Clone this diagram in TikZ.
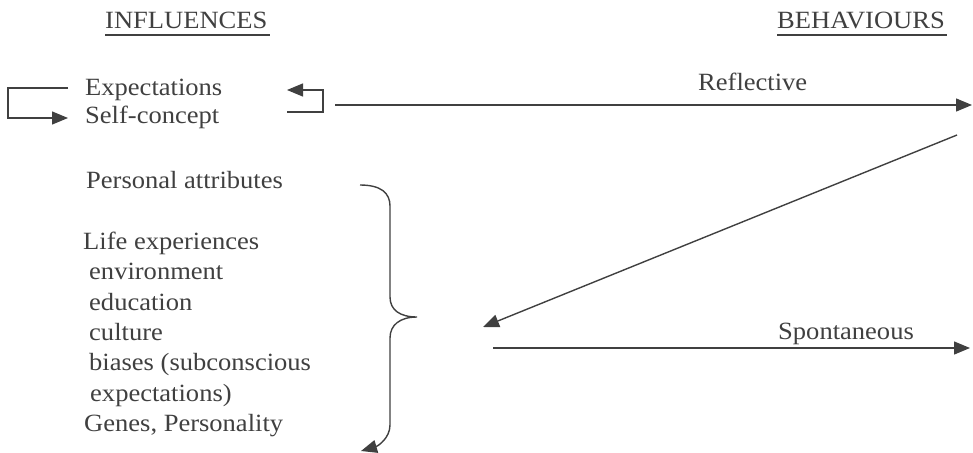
\documentclass[tikz,border=0pt]{standalone}
\usepackage{fontspec}
\setmainfont{Liberation Serif}[FakeStretch=1.07]
\usetikzlibrary{arrows.meta}
\definecolor{ink}{gray}{0.25}
\begin{document}
\begin{tikzpicture}[x=1pt,y=-1pt,
  lbl/.style={anchor=base west,inner sep=0pt,text=ink,font=\fontsize{24.8}{30}\selectfont},
  conn/.style={draw=ink,line width=1.4pt},
  tri/.style={-{Triangle[length=16pt,width=13pt]}}]
\useasboundingbox (0,0) rectangle (973,452);

% column headings
\node[lbl] (infl) at (105,29) {INFLUENCES};
\node[lbl] (behav) at (777,29) {BEHAVIOURS};
\draw[conn] ([yshift=-6pt]infl.base west) -- ([yshift=-6pt,xshift=2pt]infl.base east);
\draw[conn] ([yshift=-6pt]behav.base west) -- ([yshift=-6pt,xshift=2pt]behav.base east);

% influences
\node[lbl] (expect) at (85,95) {Expectations};
\node[lbl] (self) at (85,123) {Self-concept};
\node[lbl] (pers) at (86,188) {Personal attributes};
\node[lbl] (life) at (83,249) {Life experiences};
\node[lbl] (env) at (89,279.5) {environment};
\node[lbl] (edu) at (89,310) {education};
\node[lbl] (cult) at (89,340) {culture};
\node[lbl] (bias) at (89,370.5) {biases (subconscious};
\node[lbl] (bias2) at (90,401) {expectations)};
\node[lbl] (genes) at (84,431) {Genes, Personality};

% behaviours
\node[lbl] (refl) at (698,90) {Reflective};
\node[lbl] (spont) at (778,339) {Spontaneous};

% connector end points
\coordinate (loopL) at (68,88);
\coordinate (loopLend) at (68,118);
\coordinate (loopRstart) at (287,112);
\coordinate (loopRend) at (287,90);
\coordinate (reflStart) at (335,105);
\coordinate (reflEnd) at (972,105);
\coordinate (diagStart) at (957,135);
\coordinate (diagEnd) at (483,327);
\coordinate (spStart) at (493,348);
\coordinate (spEnd) at (970,348);
\coordinate (braceTop) at (360,185);
\coordinate (braceTip) at (417,317);
\coordinate (braceEnd) at (361,451);

% feedback loops between expectations and self-concept
\draw[conn,tri] (loopL) -- (8,88) -- (8,118) -- (loopLend);
\draw[conn,tri] (loopRstart) -- (323,112) -- (323,90) -- (loopRend);

% main arrows
\draw[conn,tri] (reflStart) -- (reflEnd);
\draw[conn,tri] (diagStart) -- (diagEnd);
\draw[conn,tri] (spStart) -- (spEnd);

% brace grouping the influences
\draw[conn,tri] (braceTop) .. controls (381,185) and (390,193) .. (390,206)
  -- (390,297) .. controls (390,310) and (400,317) .. (braceTip)
  .. controls (400,317) and (390,325) .. (390,338)
  -- (390,425) .. controls (390,438) and (378,446) .. (braceEnd);
\end{tikzpicture}
\end{document}
